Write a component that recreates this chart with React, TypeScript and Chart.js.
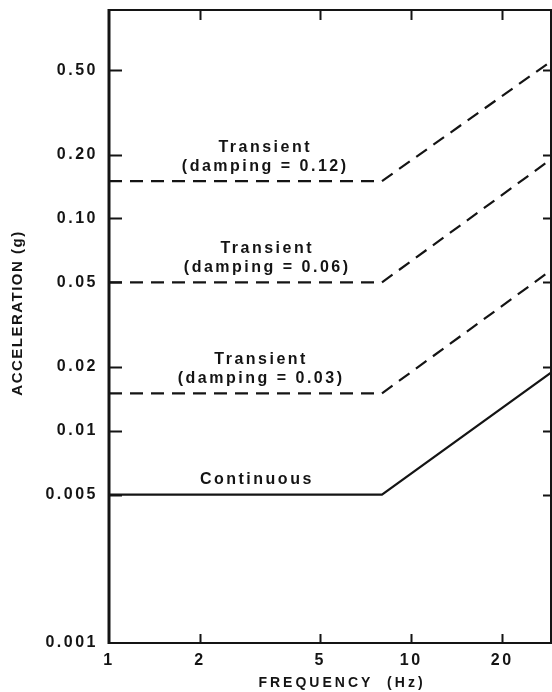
import React, { useEffect, useRef } from 'react';
import { Chart, registerables } from 'chart.js';

Chart.register(...registerables);

// ---- data ----
const frequencies = [1, 8, 29];
const continuous = [0.005, 0.005, 0.0188];
const transient003 = [0.015, 0.015, 0.057];
const transient006 = [0.05, 0.05, 0.19];
const transient012 = [0.15, 0.15, 0.55];

const xTickValues = [1, 2, 5, 10, 20];
const xTickLabels = ['1', '2', '5', '10', '20'];
const yTickValues = [0.001, 0.005, 0.01, 0.02, 0.05, 0.1, 0.2, 0.5];
const yTickLabels = ['0.001', '0.005', '0.01', '0.02', '0.05', '0.10', '0.20', '0.50'];

const xTitle = 'FREQUENCY  (Hz)';
const yTitle = 'ACCELERATION (g)';

const curveLabels = [
  { x: 3.25, y: 0.15, lines: ['Transient', '(damping = 0.12)'] },
  { x: 3.3, y: 0.05, lines: ['Transient', '(damping = 0.06)'] },
  { x: 3.15, y: 0.015, lines: ['Transient', '(damping = 0.03)'] },
  { x: 3.05, y: 0.005, lines: ['Continuous'] },
];

const INK = '#141414';
const FONT = "'Liberation Sans', Arial, sans-serif";

const toPts = (ys: number[]) => frequencies.map((f, i) => ({ x: f, y: ys[i] }));

const decorPlugin = {
  id: 'decor',
  beforeDraw(chart: any) {
    const ctx = chart.ctx;
    ctx.fillStyle = '#ffffff';
    ctx.fillRect(0, 0, chart.width, chart.height);
    (ctx as any).letterSpacing = '2.5px';
  },
  afterDraw(chart: any) {
    const ctx = chart.ctx;
    const { left, right, top, bottom } = chart.chartArea;
    const xs = chart.scales.x;
    const ys = chart.scales.y;
    ctx.save();
    ctx.strokeStyle = INK;
    ctx.lineCap = 'butt';
    // frame
    ctx.lineWidth = 2;
    ctx.beginPath();
    ctx.moveTo(left, top);
    ctx.lineTo(right, top);
    ctx.lineTo(right, bottom);
    ctx.lineTo(left, bottom);
    ctx.stroke();
    ctx.lineWidth = 3;
    ctx.beginPath();
    ctx.moveTo(left, top - 1);
    ctx.lineTo(left, bottom + 1);
    ctx.stroke();
    // ticks
    ctx.lineWidth = 2;
    xTickValues.forEach((v) => {
      if (v === xs.min) return;
      const px = Math.round(xs.getPixelForValue(v)) + 0.5;
      ctx.beginPath();
      ctx.moveTo(px, bottom);
      ctx.lineTo(px, bottom - 9);
      ctx.moveTo(px, top);
      ctx.lineTo(px, top + 10);
      ctx.stroke();
    });
    yTickValues.forEach((v) => {
      if (v === ys.min) return;
      const py = Math.round(ys.getPixelForValue(v)) + 0.5;
      ctx.beginPath();
      ctx.moveTo(left, py);
      ctx.lineTo(left + 13, py);
      ctx.moveTo(right, py);
      ctx.lineTo(right - 8, py);
      ctx.stroke();
    });
    // curve labels
    ctx.fillStyle = INK;
    ctx.font = `bold 16px ${FONT}`;
    (ctx as any).letterSpacing = '2.5px';
    ctx.textAlign = 'center';
    ctx.textBaseline = 'middle';
    curveLabels.forEach((lab) => {
      const px = xs.getPixelForValue(lab.x);
      const py = ys.getPixelForValue(lab.y);
      const n = lab.lines.length;
      lab.lines.forEach((t, i) => {
        const off = 15 + (n - 1 - i) * 19;
        ctx.fillText(t, px + 1.5, py - off);
      });
    });
    // axis titles
    ctx.font = `bold 14px ${FONT}`;
    (ctx as any).letterSpacing = '3px';
    ctx.fillText(xTitle, 342, 683);
    ctx.save();
    ctx.translate(18, 313);
    ctx.rotate(-Math.PI / 2);
    ctx.font = `bold 15px 'Liberation Sans Narrow', ${FONT}`;
    (ctx as any).letterSpacing = '1.5px';
    ctx.fillText(yTitle, 0, 0);
    ctx.restore();
    ctx.restore();
  },
};

const zeroPad = (s: any) => {
  s.paddingTop = 0;
  s.paddingBottom = 0;
  s.paddingLeft = 0;
  s.paddingRight = 0;
};

export default function App() {
  const ref = useRef<HTMLCanvasElement | null>(null);
  useEffect(() => {
    document.body.style.margin = '0';
    const canvas = ref.current;
    if (!canvas) return;
    const dash = [13, 8];
    const chart = new Chart(canvas, {
      type: 'line',
      data: {
        datasets: [
          { label: 'Transient (damping = 0.12)', data: toPts(transient012), borderDash: dash },
          { label: 'Transient (damping = 0.06)', data: toPts(transient006), borderDash: dash },
          { label: 'Transient (damping = 0.03)', data: toPts(transient003), borderDash: dash },
          { label: 'Continuous', data: toPts(continuous) },
        ].map((d) => ({
          ...d,
          borderColor: INK,
          borderWidth: 2.2,
          pointRadius: 0,
          tension: 0,
          fill: false,
        })),
      },
      options: {
        responsive: false,
        animation: false,
        devicePixelRatio: 1,
        layout: { padding: { top: 10, right: 1, left: 0, bottom: 0 } },
        plugins: { legend: { display: false }, tooltip: { enabled: false }, title: { display: false } },
        scales: {
          x: {
            type: 'logarithmic',
            min: 1,
            max: 29,
            grid: { display: false, drawTicks: false },
            border: { display: false },
            afterBuildTicks: (s: any) => {
              s.ticks = xTickValues.map((v) => ({ value: v }));
            },
            afterFit: (s: any) => {
              s.height = 49;
              zeroPad(s);
            },
            ticks: {
              autoSkip: false,
              maxRotation: 0,
              padding: 8,
              color: INK,
              font: { family: FONT, size: 16, weight: 'bold' },
              callback: (v: any) => {
                const i = xTickValues.indexOf(Number(v));
                return i >= 0 ? xTickLabels[i] : '';
              },
            },
          },
          y: {
            type: 'logarithmic',
            min: 0.001,
            max: 0.96,
            grid: { display: false, drawTicks: false },
            border: { display: false },
            afterBuildTicks: (s: any) => {
              s.ticks = yTickValues.map((v) => ({ value: v }));
            },
            afterFit: (s: any) => {
              s.width = 109;
              zeroPad(s);
            },
            ticks: {
              autoSkip: false,
              padding: 11,
              color: INK,
              font: { family: FONT, size: 16, weight: 'bold' },
              callback: (v: any) => {
                const i = yTickValues.findIndex((t) => Math.abs(t - Number(v)) < 1e-9);
                return i >= 0 ? yTickLabels[i] : '';
              },
            },
          },
        },
      } as any,
      plugins: [decorPlugin],
    });
    return () => chart.destroy();
  }, []);
  return (
    <canvas
      ref={ref}
      width={552}
      height={692}
      style={{ position: 'absolute', left: 0, top: 0, width: 552, height: 692 }}
    />
  );
}
